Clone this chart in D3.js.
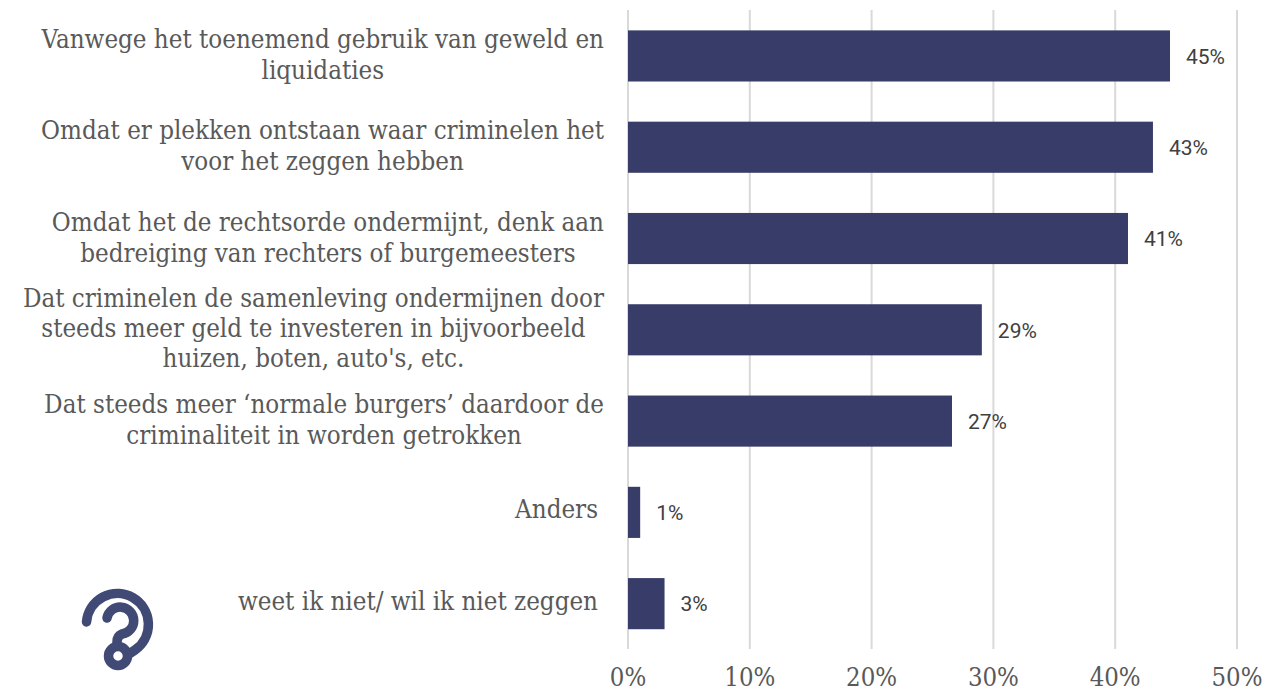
<!DOCTYPE html>
<html><head><meta charset="utf-8">
<script src="https://cdn.jsdelivr.net/npm/d3@7/dist/d3.min.js"></script>
<style>html,body{margin:0;padding:0;background:#fff}svg{display:block}</style></head>
<body><svg id="c" width="1266" height="691"></svg>
<script>
const categories=[
 ["Vanwege het toenemend gebruik van geweld en","liquidaties"],
 ["Omdat er plekken ontstaan waar criminelen het","voor het zeggen hebben"],
 ["Omdat het de rechtsorde ondermijnt, denk aan","bedreiging van rechters of burgemeesters"],
 ["Dat criminelen de samenleving ondermijnen door","steeds meer geld te investeren in bijvoorbeeld","huizen, boten, auto's, etc."],
 ["Dat steeds meer ‘normale burgers’ daardoor de","criminaliteit in worden getrokken"],
 ["Anders"],
 ["weet ik niet/ wil ik niet zeggen"]];
const values=[44.5,43.1,41.05,29.05,26.6,1,3];
const ticks=[0,10,20,30,40,50];
const serif='"DejaVu Serif Condensed","DejaVu Serif",serif';
const svg=d3.select("#c");
const x=d3.scaleLinear().domain([0,50]).range([628,1237]);
const y=d3.scaleBand().domain(d3.range(values.length)).range([10.3,649.3]).paddingInner(0.44).paddingOuter(0.22);
const g=svg.append("g");
g.selectAll("line.g").data(ticks).join("line").attr("x1",d=>x(d)).attr("x2",d=>x(d)).attr("y1",10).attr("y2",649).attr("stroke","#d9d9d9").attr("stroke-width",2);
g.selectAll("rect").data(values).join("rect").attr("x",x(0)).attr("y",(d,i)=>y(i)).attr("width",d=>x(d)-x(0)).attr("height",y.bandwidth()).attr("fill","#383c68");
g.selectAll("text.v").data(values).join("text").attr("class","v").attr("x",d=>x(d)+16).attr("y",(d,i)=>y(i)+y.bandwidth()/2).attr("dy","0.37em").attr("font-family","Roboto").attr("font-size",21).attr("fill","#404040").text(d=>Math.round(d)+"%");
g.selectAll("text.t").data(ticks).join("text").attr("class","t").attr("x",d=>x(d)).attr("y",686).attr("text-anchor","middle").attr("font-family",serif).attr("font-size",25.5).attr("fill","#595959").text(d=>d+"%");
categories.forEach((ls,i)=>{
  const cy=y(i)+y.bandwidth()/2;
  const step=ls.length===3?30:31;
  const t=svg.append("text").attr("font-family",serif).attr("font-size",25.7).attr("fill","#595959");
  const spans=ls.map((l,j)=>t.append("tspan").attr("text-anchor","middle")
     .attr("y",cy+(j-(ls.length-1)/2)*step+(ls.length>1?7.5:6)).text(l));
  const w=d3.max(spans,s=>s.node().getComputedTextLength());
  const right=ls.length>1?604:598;
  spans.forEach(s=>s.attr("x",right-w/2));
});
const icon=svg.append("g").attr("fill","none").attr("stroke","#404a75").attr("stroke-linecap","round").attr("stroke-width",9.5);
icon.append("path").attr("d","M86.5 622 A31 31 0 1 1 135 650 L129 654");
icon.append("path").attr("d","M107 618 A13.5 13.5 0 1 1 122 634 Q117 636 117 642 L117 646");
icon.append("circle").attr("cx",118).attr("cy",656).attr("r",9.5);
</script></body></html>
